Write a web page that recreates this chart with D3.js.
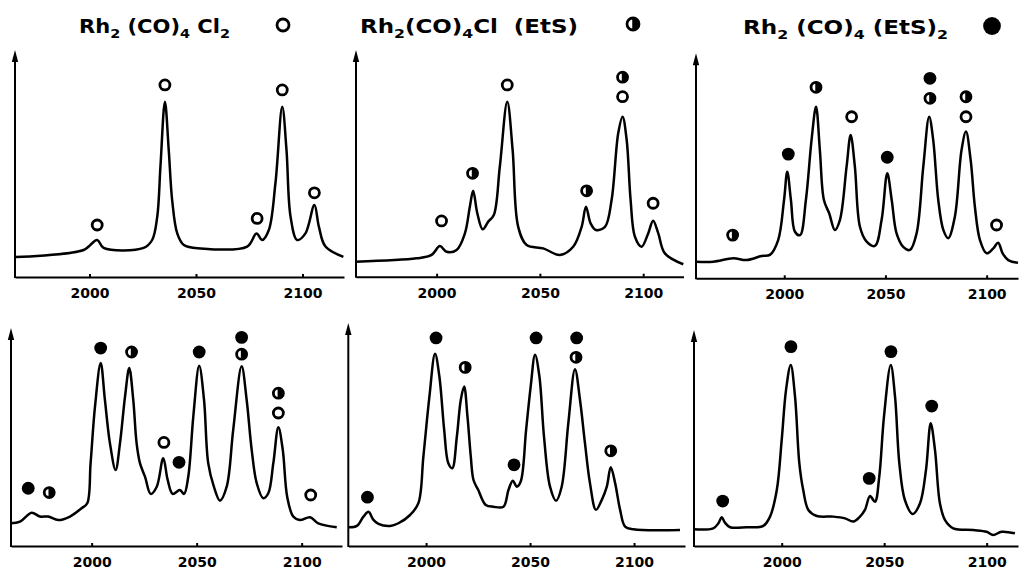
<!DOCTYPE html>
<html>
<head>
<meta charset="utf-8">
<script src="https://cdn.jsdelivr.net/npm/d3@7"></script>
<style>
  body { margin: 0; background: #fff; }
  svg { display: block; }
  .axis path, .axis line { stroke: #000; stroke-width: 2; }
  .title { font-family: "DejaVu Sans", sans-serif; font-weight: bold; fill: #000; }
</style>
</head>
<body>
<div id="js_chart"></div>
<script>
// ---- data: spectra, [wavenumber cm-1, relative absorbance 0..100]
var tickValues = [2000, 2050, 2100];

var spec1 = [[1965.3,8.8],[1997.2,11.9],[2003.6,16.3],[2006.6,12.8],[2025.4,12.8],[2029.4,16.3],[2031.8,26.6],
  [2033.3,48.6],[2035.4,77.2],[2037.2,55.9],[2038.8,33.9],[2041.2,19.2],[2044.3,14.1],[2052.1,12.6],[2074,13.4],
  [2078.4,19.2],[2081.1,16.3],[2084.2,20.7],[2087.3,41.3],[2090.5,75],[2092.5,55.9],[2094.4,26.6],[2097.5,16.3],
  [2101.4,19.2],[2105.6,31.7],[2107.7,22.2],[2110.8,13.4],[2119.2,8.9]];
var spec2 = [[1960.9,6.6],[1990.3,8.1],[1997.6,9.6],[2001.6,13.5],[2004.8,11],[2009.7,11.8],[2013.7,19.1],
  [2016.1,30.9],[2017.7,37.9],[2019.7,28],[2022.3,20.9],[2025,24.3],[2027.7,27.2],[2030.6,48.5],[2034.2,77.2],
  [2036.8,55.9],[2039.5,22],[2043.6,14],[2051.6,12.5],[2059.7,9.6],[2066.1,13.2],[2070.2,22],[2072.3,30.9],
  [2074.5,23.6],[2077.1,20.6],[2081.5,22],[2084.7,33.8],[2087.9,63.3],[2090,70.6],[2092,60.3],[2093.9,33.8],
  [2096,17.6],[2099.2,13.2],[2102.4,19.1],[2104.8,24.7],[2107.3,19.1],[2110.5,10.3],[2119.4,5.5]];
var spec3 = [[1956.4,7.4],[1964.9,7.4],[1974.8,8.9],[1981.4,8.1],[1988.8,9.9],[1992.9,10.4],[1997,17],
  [1999.9,34.8],[2001.5,47.4],[2003.3,34.8],[2005.3,20.7],[2007.8,19.2],[2010.7,34.8],[2013.5,61.5],[2015.7,76.3],
  [2017.6,57],[2019.6,34.8],[2022.2,28.9],[2025,21.5],[2027.5,25.9],[2030.8,49.6],[2032.8,63.7],[2034.9,49.6],
  [2037.4,22.9],[2040.7,16.3],[2044.8,14.4],[2048.1,25.9],[2050.9,46.7],[2053.1,34.8],[2055.5,20],[2058.8,14],
  [2062.1,12.6],[2065.4,20],[2068.7,49.6],[2071.6,71.8],[2073.6,61.5],[2076.1,34.8],[2078.6,21.5],[2081,17.8],
  [2084.3,27.4],[2087.6,57],[2089.8,65.2],[2092.1,52.6],[2094.2,31.8],[2096.7,17],[2100,11.1],[2103.3,13.3],
  [2105.7,15.8],[2107.9,11.1],[2110.7,8.1],[2115.5,6.9]];
var spec4 = [[1961.6,10.4],[1965.9,11.2],[1971.4,15.3],[1975.4,13.5],[1979.3,13.5],[1984.1,11.9],[1989.7,13.5],
  [1995.2,17.3],[1997.9,19.6],[1999.5,38],[2001.6,64],[2004.3,83.9],[2006.3,67.1],[2008.7,47.2],[2011.4,34.9],
  [2013.5,47.2],[2015.9,68.6],[2017.9,81.6],[2019.8,67.1],[2021.4,47.2],[2023,38],[2025.4,31.8],[2028.1,23.9],
  [2031,27.2],[2034.1,40.3],[2036.2,30.3],[2038.6,23.9],[2042,25.7],[2044,23.9],[2046,31.8],[2048.4,59.4],
  [2051.2,82.7],[2053.5,67.1],[2055.5,38],[2058.2,27.2],[2061.1,20.8],[2064.3,27.2],[2067.4,53.3],[2071.4,82.4],
  [2073.8,67.1],[2076.2,44.1],[2078.6,28.8],[2081.7,21.9],[2084.1,24.2],[2086.5,38],[2088.9,54.5],[2091,44.1],
  [2093.1,22.6],[2096,13.5],[2099.2,11.9],[2104,13.2],[2107.9,10.4],[2116.7,8.6]];
var spec5 = [[1962.6,8.4],[1966.7,9],[1969.9,13.2],[1972.3,15.4],[1974.7,11.7],[1977.1,9.9],[1982.7,9],
  [1986.7,10.2],[1992.3,13.9],[1996.3,19.2],[1998.7,40.1],[2001.6,67],[2004.3,86.2],[2006.4,76],[2008.7,52.1],
  [2010.7,37.1],[2012.6,34.9],[2014.8,49.1],[2016.7,65.6],[2018.3,71.5],[2019.9,58.1],[2021.5,40.1],[2022.8,29.6],
  [2025.1,25.1],[2028.7,18.4],[2032.4,17.6],[2037.2,17.6],[2039.6,25.1],[2041.7,29.3],[2043.6,26.6],[2045.5,28.9],
  [2048.1,52.1],[2050.3,71.5],[2052.4,85.8],[2054.5,76],[2056.7,49.1],[2059.6,26.6],[2062.5,20.3],[2065.2,26.6],
  [2068.4,55.1],[2071.6,79.3],[2074,65.6],[2076.4,46.1],[2078.8,28.2],[2081.7,16.2],[2084.5,20.7],[2086.9,26.6],
  [2088.8,35.3],[2090.9,28.2],[2093.3,16.2],[2095.7,8.7],[2099.7,7.5],[2122.1,7.2]];
var spec6 = [[1957.2,7.7],[1966.6,8.2],[1969.1,10.5],[1970.7,13.3],[1972.3,10.8],[1974.8,8.7],[1982.9,8.7],
  [1991,9.3],[1994.3,13.6],[1997.6,25.9],[2000,49.1],[2002.1,72.2],[2004.4,83.8],[2006.5,69.1],[2008.6,38.3],
  [2010.5,25.9],[2013,16.7],[2017.1,13.9],[2025.2,13.6],[2030.9,12.8],[2034.9,11.3],[2038.2,13.6],[2040.6,16.7],
  [2043.1,23.1],[2045.5,20.5],[2047.6,32.1],[2049.9,59.9],[2053.2,83.8],[2055.3,69.1],[2057.4,38.3],[2060.1,21.3],
  [2063.9,14.8],[2067.5,19.8],[2070.4,35.2],[2072.7,56.8],[2074.8,44.4],[2077.2,19.8],[2079.7,12],[2083.7,8.2],
  [2093.5,7.4],[2100,6.6],[2103.2,5.1],[2107.3,6.6],[2113.8,5.9]];

// band assignments: [wavenumber, height, species] o = Cl2, h = Cl(EtS), f = (EtS)2
var marks1 = [[2003.6,22.9,"o"],[2035.4,84.6,"o"],[2078.7,25.8,"o"],[2090.5,82.4,"o"],[2105.6,37.1,"o"]];
var marks2 = [[2002.4,24.6,"o"],[2017.4,45.6,"h"],[2034.2,84.6,"o"],[2072.6,37.9,"h"],[2090,88,"h"],
  [2090,79.4,"o"],[2104.8,32.4,"o"]];
var marks3 = [[1974.5,19.2,"h"],[2002,55.2,"f"],[2015.7,84.9,"h"],[2033.3,71.8,"o"],[2050.9,53.8,"f"],
  [2072,88.9,"f"],[2072,80,"h"],[2089.8,80.7,"h"],[2089.8,71.8,"o"],[2104.9,23.7,"o"]];
var marks4 = [[1969.8,26.5,"f"],[1979.8,24.5,"h"],[2004.3,90.8,"f"],[2019,89,"h"],[2034.4,47.5,"o"],
  [2041.6,38.4,"f"],[2051.2,89,"f"],[2071.4,95.7,"f"],[2071.4,88,"h"],[2088.9,70.1,"h"],[2088.9,61,"o"],
  [2104.3,23.4,"o"]];
var marks5 = [[1971.8,21.9,"f"],[2004.8,93.3,"f"],[2018.8,80.1,"h"],[2042.3,36.4,"f"],[2052.9,93.3,"f"],
  [2072.4,93.3,"f"],[2072.1,84.6,"h"],[2088.8,42.7,"h"]];
var marks6 = [[1971.2,20.8,"f"],[2004.5,92.3,"f"],[2042.7,31.3,"f"],[2053.3,90,"f"],[2073.2,64.8,"f"]];

// titles: [text, subscript?]
var title1 = [["Rh",0],["2",1],[" (CO)",0],["4",1],[" Cl",0],["2",1]];
var title2 = [["Rh",0],["2",1],["(CO)",0],["4",1],["Cl  (EtS)",0]];
var title3 = [["Rh",0],["2",1],[" (CO)",0],["4",1],[" (EtS)",0],["2",1]];

// ---- layout
var panels = [
  { spec: spec1, marks: marks1, xd: [1965, 2119.5], xr: [15, 344], yr: [277, 50] },
  { spec: spec2, marks: marks2, xd: [1961, 2119.5], xr: [356, 683.5], yr: [276.7, 50] },
  { spec: spec3, marks: marks3, xd: [1956.4, 2115.5], xr: [696, 1018], yr: [278.3, 53.3] },
  { spec: spec4, marks: marks4, xd: [1961.6, 2119.2], xr: [11, 342], yr: [546, 328] },
  { spec: spec5, marks: marks5, xd: [1962.6, 2124.5], xr: [348.3, 685], yr: [546, 323] },
  { spec: spec6, marks: marks6, xd: [1957.2, 2115.3], xr: [694, 1018], yr: [546, 330] }
];
var titles = [
  { parts: title1, x: 79, y: 33, len: 151, mx: 283, my: 25, mr: 6, kind: "o" },
  { parts: title2, x: 360, y: 33, len: 218, mx: 633, my: 24, mr: 6, kind: "h" },
  { parts: title3, x: 743, y: 34, len: 205, mx: 992, my: 26, mr: 7.5, kind: "f" }
];

var svg = d3.select("#js_chart").append("svg")
  .attr("width", 1019)
  .attr("height", 572);

svg.append("rect").attr("width", 1019).attr("height", 572).attr("fill", "#fff");

function marker(g, cx, cy, r, kind)
{
    if (kind == "f") {
        g.append("circle").attr("cx", cx).attr("cy", cy).attr("r", r + 1.4).attr("fill", "#000");
        return;
    }
    g.append("circle").attr("cx", cx).attr("cy", cy).attr("r", r)
      .attr("fill", "#fff").attr("stroke", "#000").attr("stroke-width", 2.8);
    if (kind == "h") {
        g.append("path")
          .attr("d", "M" + cx + "," + (cy - r) + " A" + r + "," + r + " 0 0 1 " + cx + "," + (cy + r) + " Z")
          .attr("fill", "#000").attr("stroke", "#000").attr("stroke-width", 1.5);
    }
}

panels.forEach(function(p)
{
    var x = d3.scaleLinear().domain(p.xd).range(p.xr);
    var y = d3.scaleLinear().domain([0, 100]).range(p.yr);
    var g = svg.append("g");

    // bottom axis, ticks pointing up
    g.append("g")
      .attr("class", "axis")
      .attr("transform", "translate(0," + y(0) + ")")
      .call(d3.axisBottom(x).tickValues(tickValues).tickSizeInner(-3).tickSizeOuter(0).tickPadding(11)
        .tickFormat(d3.format("d")))
      .attr("font-family", "DejaVu Sans, sans-serif")
      .attr("font-size", 14)
      .attr("font-weight", "bold");

    // vertical axis with arrow
    var x0 = p.xr[0], top = y(100);
    g.append("line")
      .attr("x1", x0).attr("y1", y(0) + 1)
      .attr("x2", x0).attr("y2", top + 8)
      .attr("stroke", "#000").attr("stroke-width", 2);
    g.append("path")
      .attr("d", "M" + x0 + "," + top + " L" + (x0 + 3.2) + "," + (top + 12) + " L" + (x0 - 3.2) + "," + (top + 12) + " Z")
      .attr("fill", "#000");

    // spectrum
    var line = d3.line()
      .x(function(d) { return x(d[0]); })
      .y(function(d) { return y(d[1]); })
      .curve(d3.curveCatmullRom.alpha(0.5));
    g.append("path")
      .datum(p.spec)
      .attr("d", line)
      .attr("fill", "none")
      .attr("stroke", "#000")
      .attr("stroke-width", 2.5)
      .attr("stroke-linejoin", "round");

    p.marks.forEach(function(m) { marker(g, x(m[0]), y(m[1]), 5, m[2]); });
});

titles.forEach(function(t)
{
    var txt = svg.append("text").attr("class", "title")
      .attr("x", t.x).attr("y", t.y)
      .attr("textLength", t.len).attr("lengthAdjust", "spacingAndGlyphs");
    var shift = 0;
    t.parts.forEach(function(part)
    {
        var dy = part[1] ? 5 - shift : -shift;
        shift = part[1] ? 5 : 0;
        txt.append("tspan")
          .attr("dy", dy)
          .attr("font-size", part[1] ? 13 : 19)
          .attr("xml:space", "preserve")
          .text(part[0]);
    });
    marker(svg, t.mx, t.my, t.mr, t.kind);
});
</script>
</body>
</html>
